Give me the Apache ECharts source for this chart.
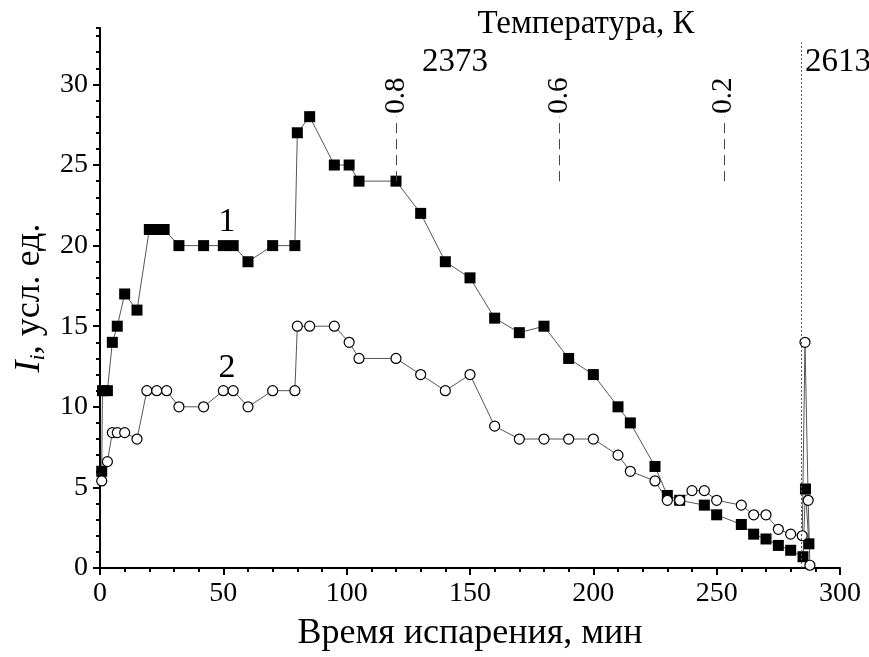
<!DOCTYPE html>
<html><head><meta charset="utf-8">
<script src="https://cdn.jsdelivr.net/npm/echarts@6/dist/echarts.min.js"></script>
<style>html,body{margin:0;padding:0;background:#fff}#c{width:869px;height:657px}</style>
</head><body><div id="c"></div>
<script>
// Series 1 (filled squares)
const time1 = [0.7, 1, 3, 5, 7, 10, 15, 20, 23, 26, 32, 42, 50, 54, 60, 70, 79, 80, 85, 95, 101, 105, 120, 130, 140, 150, 160, 170, 180, 190, 200, 210, 215, 225, 230, 235, 245, 250, 260, 265, 270, 275, 280, 285, 286, 287.4];
const int1  = [6, 11, 11, 14, 15, 17, 16, 21, 21, 21, 20, 20, 20, 20, 19, 20, 20, 27, 28, 25, 25, 24, 24, 22, 19, 18, 15.5, 14.6, 15, 13, 12, 10, 9, 6.3, 4.5, 4.2, 3.9, 3.3, 2.7, 2.1, 1.8, 1.4, 1.1, 0.7, 4.9, 1.5];
// Series 2 (open circles)
const time2 = [0.7, 3, 5, 7, 10, 15, 19, 23, 27, 32, 42, 50, 54, 60, 70, 79, 80, 85, 95, 101, 105, 120, 130, 140, 150, 160, 170, 180, 190, 200, 210, 215, 225, 230, 235, 240, 245, 250, 260, 265, 270, 275, 280, 284.7, 285.8, 287.1, 287.8];
const int2  = [5.4, 6.6, 8.4, 8.4, 8.4, 8.0, 11, 11, 11, 10, 10, 11, 11, 10, 11, 11, 15, 15, 15, 14, 13, 13, 12, 11, 12, 8.8, 8, 8, 8, 8, 7, 6, 5.4, 4.2, 4.2, 4.8, 4.8, 4.2, 3.9, 3.3, 3.3, 2.4, 2.1, 2.0, 14, 4.2, 0.17];
// Reference markers (fraction labels)
const refX = [120.2, 186.2, 252.9];
const refLabels = ['0.8', '0.6', '0.2'];
const refY = [24, 28];
const refLabelY = 29.3;
const dotX = 284.4;
const dotY = [0, 32.6];
const xTicks = [0, 50, 100, 150, 200, 250, 300];
const yTicks = [0, 5, 10, 15, 20, 25, 30];

const FONT = 'Liberation Serif';
const chart = echarts.init(document.getElementById('c'));
const d1 = time1.map((t, i) => [t, int1[i]]);
const d2 = time2.map((t, i) => [t, int2[i]]);

const mlData = refX.map(x => [{coord: [x, refY[0]]}, {coord: [x, refY[1]]}]);
mlData.push([{coord: [dotX, dotY[0]], lineStyle: {type: [2, 2], color: '#555', width: 1}}, {coord: [dotX, dotY[1]]}]);

chart.setOption({
  animation: false,
  grid: {left: 100, right: 29, top: 28, bottom: 86},
  xAxis: {
    type: 'value', min: xTicks[0], max: xTicks[xTicks.length - 1], interval: 50,
    axisLine: {lineStyle: {color: '#000', width: 2}},
    axisTick: {length: 7, lineStyle: {color: '#000', width: 2}},
    minorTick: {show: true, splitNumber: 5, length: 4, lineStyle: {color: '#000', width: 2}},
    splitLine: {show: false},
    axisLabel: {fontFamily: FONT, fontSize: 28, color: '#000', margin: 12},
    name: 'Время испарения, мин', nameLocation: 'middle', nameGap: 48,
    nameTextStyle: {fontFamily: FONT, fontSize: 36, color: '#000'}
  },
  yAxis: [{
    type: 'value', min: 0, max: 33.5, interval: 5, position: 'left',
    axisLine: {show: true, lineStyle: {color: '#000', width: 2}},
    axisTick: {show: true, length: 7, lineStyle: {color: '#000', width: 2}},
    splitLine: {show: false},
    axisLabel: {fontFamily: FONT, fontSize: 28, color: '#000', margin: 12, showMaxLabel: false,
      formatter: v => yTicks.includes(v) ? String(v) : ''},
    name: '{i|I}{s|i}{n|, усл. ед.}', nameLocation: 'middle', nameGap: 47,
    nameTextStyle: {color: '#000', rich: {
      i: {fontFamily: FONT, fontStyle: 'italic', fontSize: 36, lineHeight: 40, color: '#000'},
      s: {fontFamily: FONT, fontStyle: 'italic', fontSize: 22, lineHeight: 18, verticalAlign: 'bottom', color: '#000'},
      n: {fontFamily: FONT, fontSize: 36, lineHeight: 40, color: '#000'}
    }}
  }, {
    type: 'value', min: 0, max: 33.5, interval: 1, position: 'left',
    axisLine: {show: false},
    axisTick: {show: true, length: 4, lineStyle: {color: '#000', width: 2}},
    axisLabel: {show: false}, splitLine: {show: false}
  }],
  series: [{
    type: 'line', data: d1, yAxisIndex: 0,
    symbol: 'rect', symbolSize: 11,
    itemStyle: {color: '#000'},
    lineStyle: {color: '#555', width: 1},
    markLine: {symbol: 'none', silent: true, label: {show: false},
      lineStyle: {type: [10, 6], color: '#444', width: 1}, data: mlData}
  }, {
    type: 'line', data: d2, yAxisIndex: 0,
    symbol: 'circle', symbolSize: 10,
    itemStyle: {color: '#fff', borderColor: '#000', borderWidth: 1.2},
    lineStyle: {color: '#555', width: 1}
  }]
});

const gr = [];
refX.forEach((x, i) => {
  const p = chart.convertToPixel({gridIndex: 0}, [x, refLabelY]);
  gr.push({type: 'text', x: p[0], y: p[1], rotation: Math.PI / 2,
    style: {text: refLabels[i], font: '29px "Liberation Serif"', fill: '#000', align: 'center', verticalAlign: 'middle'}});
});
gr.push({type: 'text', x: 586, y: 24, style: {text: 'Температура, К', font: '33px "Liberation Serif"', fill: '#000', align: 'center', verticalAlign: 'middle'}});
gr.push({type: 'text', x: 455, y: 62, style: {text: '2373', font: '33px "Liberation Serif"', fill: '#000', align: 'center', verticalAlign: 'middle'}});
gr.push({type: 'text', x: 805, y: 62, style: {text: '2613', font: '33px "Liberation Serif"', fill: '#000', align: 'left', verticalAlign: 'middle'}});
gr.push({type: 'text', x: 227, y: 222, style: {text: '1', font: '34px "Liberation Serif"', fill: '#000', align: 'center', verticalAlign: 'middle'}});
gr.push({type: 'text', x: 227, y: 368, style: {text: '2', font: '34px "Liberation Serif"', fill: '#000', align: 'center', verticalAlign: 'middle'}});
chart.setOption({graphic: gr});
</script>
</body></html>
